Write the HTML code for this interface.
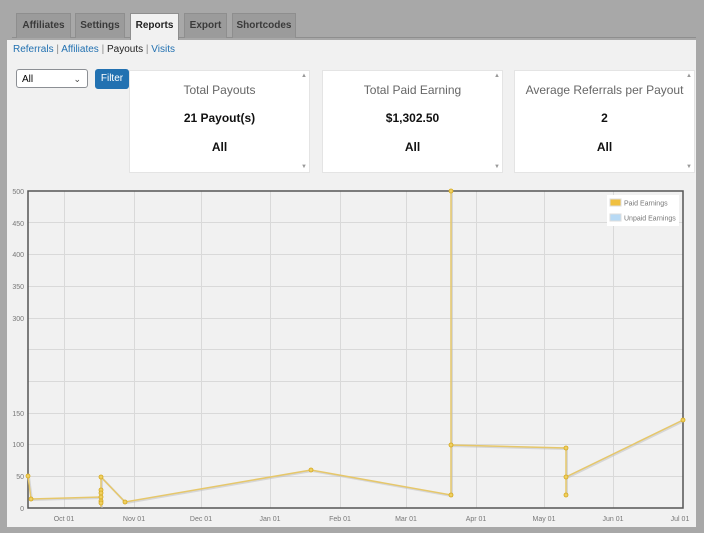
<!DOCTYPE html>
<html><head><style>
body{margin:0;width:704px;height:533px;background:#a8a8a8;font-family:"Liberation Sans",sans-serif;position:relative;overflow:hidden}
.tab{position:absolute;top:13px;height:24px;background:#9b9b9b;border:1px solid #8e8e8e;border-bottom:none;font-size:10px;font-weight:bold;color:#3a3a3a;text-align:center;line-height:24px}
.panel{position:absolute;left:7px;top:40px;width:689px;height:487px;background:#f1f1f1}
.card{position:absolute;top:70px;width:179px;height:101px;background:#fff;text-align:center;border:1px solid #e4e4e4}
.card .t{font-size:12px;color:#666;margin-top:12px}
.card .v{font-size:12px;font-weight:bold;color:#111;margin-top:14px}
.card .a{font-size:12px;font-weight:bold;color:#111;margin-top:15px}
.sc{position:absolute;right:2px;font-size:6px;color:#999}
</style></head><body>
<div style="position:absolute;left:12px;top:37px;width:684px;height:1px;background:#8e8e8e"></div>
<div class="tab" style="left:16px;width:53px">Affiliates</div>
<div class="tab" style="left:75px;width:48px">Settings</div>
<div class="tab" style="left:130px;width:47px;background:#f1f1f1;height:27px;color:#222">Reports</div>
<div class="tab" style="left:184px;width:41px">Export</div>
<div class="tab" style="left:232px;width:62px">Shortcodes</div>
<div class="panel"></div>
<div style="position:absolute;left:13px;top:44px;font-size:10px;color:#2271b1">Referrals <span style="color:#888">|</span> Affiliates <span style="color:#888">|</span> <b style="color:#222;font-weight:normal">Payouts</b> <span style="color:#888">|</span> Visits</div>
<div style="position:absolute;left:16px;top:69px;height:19px;background:#fff;border:1px solid #8c8f94;border-radius:3px;font-size:10px;line-height:19px;padding-left:5px;box-sizing:border-box;width:72px">All<span style="position:absolute;right:6px;top:0;font-size:9px;color:#444">&#8964;</span></div>
<div style="position:absolute;left:95px;top:69px;width:34px;height:20px;background:#2271b1;border-radius:3px;color:#fff;font-size:10px;line-height:20px;text-align:center">Filter</div>
<div class="card" style="left:129px"><div class="t">Total Payouts</div><div class="v">21 Payout(s)</div><div class="a">All</div><span class="sc" style="top:2px">▲</span><span class="sc" style="bottom:2px">▼</span></div>
<div class="card" style="left:322px"><div class="t">Total Paid Earning</div><div class="v">$1,302.50</div><div class="a">All</div><span class="sc" style="top:2px">▲</span><span class="sc" style="bottom:2px">▼</span></div>
<div class="card" style="left:514px"><div class="t">Average Referrals per Payout</div><div class="v">2</div><div class="a">All</div><span class="sc" style="top:2px">▲</span><span class="sc" style="bottom:2px">▼</span></div>
<svg style="position:absolute;left:0;top:0" width="704" height="533" font-family="Liberation Sans,sans-serif" font-size="7" fill="#777">
<g stroke="#d9d9d9" stroke-width="1">
<line x1="28" x2="683" y1="476.5" y2="476.5"/><line x1="28" x2="683" y1="444.5" y2="444.5"/><line x1="28" x2="683" y1="413.5" y2="413.5"/><line x1="28" x2="683" y1="381.5" y2="381.5"/><line x1="28" x2="683" y1="349.5" y2="349.5"/><line x1="28" x2="683" y1="318.5" y2="318.5"/><line x1="28" x2="683" y1="286.5" y2="286.5"/><line x1="28" x2="683" y1="254.5" y2="254.5"/><line x1="28" x2="683" y1="222.5" y2="222.5"/>
<line y1="191" y2="508" x1="64.5" x2="64.5"/><line y1="191" y2="508" x1="134.5" x2="134.5"/><line y1="191" y2="508" x1="201.5" x2="201.5"/><line y1="191" y2="508" x1="270.5" x2="270.5"/><line y1="191" y2="508" x1="340.5" x2="340.5"/><line y1="191" y2="508" x1="406.5" x2="406.5"/><line y1="191" y2="508" x1="476.5" x2="476.5"/><line y1="191" y2="508" x1="544.5" x2="544.5"/><line y1="191" y2="508" x1="613.5" x2="613.5"/>
</g>
<rect x="28" y="191" width="655" height="317" fill="none" stroke="#555" stroke-width="1.5"/>
<g text-anchor="end"><text x="24" y="511">0</text><text x="24" y="479">50</text><text x="24" y="447">100</text><text x="24" y="416">150</text><text x="24" y="321">300</text><text x="24" y="289">350</text><text x="24" y="257">400</text><text x="24" y="226">450</text><text x="24" y="194">500</text></g>
<g text-anchor="middle"><text x="64" y="521">Oct 01</text><text x="134" y="521">Nov 01</text><text x="201" y="521">Dec 01</text><text x="270" y="521">Jan 01</text><text x="340" y="521">Feb 01</text><text x="406" y="521">Mar 01</text><text x="476" y="521">Apr 01</text><text x="544" y="521">May 01</text><text x="613" y="521">Jun 01</text><text x="680" y="521">Jul 01</text></g>
<polyline fill="none" stroke="#bbb" stroke-width="2" opacity="0.5" transform="translate(1,1)" points="28,476 31,499 101,497 101,507 101,477 125,502 311,470 451,495 451,191 451,445 566,448 566,495 566,477 683,420"/>
<polyline fill="none" stroke="#e6c76a" stroke-width="1.5" points="28,476 31,499 101,497 101,507 101,477 125,502 311,470 451,495 451,191 451,445 566,448 566,495 566,477 683,420"/>
<g fill="#f0d060" stroke="#d4a820" stroke-width="0.8">
<circle cx="28" cy="476" r="2"/><circle cx="31" cy="499" r="2"/><circle cx="101" cy="497" r="2"/><circle cx="101" cy="477" r="2"/><circle cx="101" cy="490" r="2"/><circle cx="101" cy="493" r="2"/><circle cx="101" cy="501" r="2"/><circle cx="101" cy="503" r="2"/><circle cx="125" cy="502" r="2"/><circle cx="311" cy="470" r="2"/><circle cx="451" cy="495" r="2"/><circle cx="451" cy="191" r="2"/><circle cx="451" cy="445" r="2"/><circle cx="566" cy="448" r="2"/><circle cx="566" cy="495" r="2"/><circle cx="566" cy="477" r="2"/><circle cx="683" cy="420" r="2"/>
</g>
<rect x="607" y="195" width="72" height="31" fill="#fff"/>
<rect x="610" y="199" width="11" height="7" fill="#f0c040" stroke="#ddd"/><text x="624" y="205.5">Paid Earnings</text>
<rect x="610" y="214" width="11" height="7" fill="#b8daf5" stroke="#ddd"/><text x="624" y="220.5">Unpaid Earnings</text>
</svg>
</body></html>
